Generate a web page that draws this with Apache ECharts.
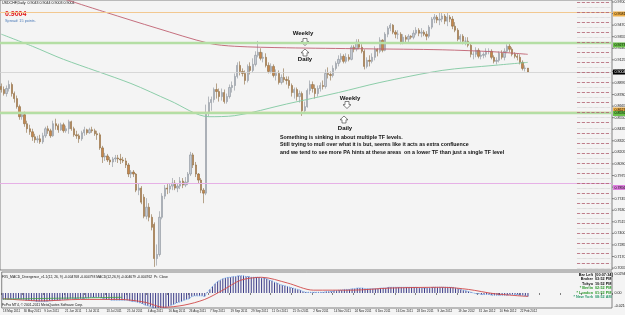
<!DOCTYPE html>
<html><head><meta charset="utf-8">
<script src="https://cdn.jsdelivr.net/npm/echarts/dist/echarts.min.js"></script>
<style>html,body{margin:0;padding:0;background:#f4f4f4;overflow:hidden}#c{width:625px;height:315px}</style>
</head><body><div id="c"></div><script>
// ---- data ----
// candles: [open, close, low, high], one per trading day from 18 May 2011
const candles = [
[0.8860,0.8830,0.8800,0.8890],[0.8830,0.8790,0.8770,0.8860],[0.8790,0.8840,0.8760,0.8870],[0.8840,0.8880,0.8810,0.8920],
[0.8880,0.8790,0.8760,0.8900],[0.8790,0.8740,0.8700,0.8810],[0.8740,0.8660,0.8640,0.8770],[0.8660,0.8560,0.8530,0.8680],
[0.8560,0.8580,0.8530,0.8600],[0.8580,0.8490,0.8460,0.8610],[0.8490,0.8440,0.8400,0.8520],[0.8440,0.8410,0.8380,0.8480],
[0.8410,0.8360,0.8320,0.8440],[0.8360,0.8330,0.8300,0.8390],[0.8330,0.8340,0.8300,0.8370],[0.8340,0.8310,0.8290,0.8380],
[0.8310,0.8370,0.8290,0.8400],[0.8370,0.8440,0.8350,0.8460],[0.8440,0.8420,0.8390,0.8470],[0.8420,0.8370,0.8350,0.8440],
[0.8370,0.8490,0.8360,0.8520],[0.8490,0.8470,0.8430,0.8540],[0.8470,0.8430,0.8400,0.8490],[0.8430,0.8480,0.8420,0.8500],
[0.8480,0.8420,0.8400,0.8500],[0.8420,0.8440,0.8400,0.8470],[0.8440,0.8510,0.8390,0.8530],[0.8510,0.8440,0.8420,0.8520],
[0.8440,0.8380,0.8360,0.8460],[0.8380,0.8370,0.8340,0.8420],[0.8370,0.8340,0.8300,0.8390],[0.8340,0.8400,0.8320,0.8420],
[0.8400,0.8430,0.8370,0.8460],[0.8430,0.8400,0.8380,0.8440],[0.8400,0.8430,0.8390,0.8450],[0.8430,0.8420,0.8400,0.8460],
[0.8420,0.8390,0.8370,0.8440],[0.8390,0.8380,0.8330,0.8420],[0.8380,0.8250,0.8230,0.8400],[0.8250,0.8160,0.8100,0.8270],
[0.8160,0.8170,0.8120,0.8200],[0.8170,0.8130,0.8110,0.8190],[0.8130,0.8110,0.8080,0.8160],[0.8110,0.8140,0.8060,0.8160],
[0.8140,0.8150,0.8110,0.8180],[0.8150,0.8140,0.8100,0.8180],[0.8140,0.8130,0.8090,0.8190],[0.8130,0.8120,0.8100,0.8160],
[0.8120,0.8080,0.8050,0.8150],[0.8080,0.7990,0.7960,0.8100],[0.7990,0.8010,0.7950,0.8030],[0.8010,0.7990,0.7960,0.8030],
[0.7990,0.7830,0.7810,0.8000],[0.7830,0.7850,0.7780,0.7900],[0.7850,0.7710,0.7690,0.7870],[0.7760,0.7570,0.7550,0.7790],
[0.7570,0.7660,0.7540,0.7750],[0.7660,0.7560,0.7520,0.7700],[0.7560,0.7460,0.7430,0.7590],[0.7490,0.7150,0.7067,0.7510],
[0.7150,0.7190,0.7080,0.7290],[0.7190,0.7560,0.7170,0.7620],[0.7560,0.7770,0.7540,0.7800],[0.7770,0.7850,0.7740,0.7880],
[0.7850,0.7840,0.7790,0.7890],[0.7840,0.7870,0.7800,0.7900],[0.7870,0.7900,0.7830,0.7950],[0.7900,0.7850,0.7830,0.7930],
[0.7850,0.7870,0.7810,0.7900],[0.7870,0.7920,0.7840,0.7960],[0.7920,0.7880,0.7850,0.7950],[0.7880,0.7910,0.7860,0.7960],
[0.7910,0.7990,0.7880,0.8010],[0.7990,0.8180,0.7970,0.8210],[0.8180,0.8080,0.8050,0.8200],[0.8080,0.7990,0.7960,0.8110],
[0.7990,0.7930,0.7900,0.8000],[0.7930,0.7830,0.7800,0.7950],[0.7830,0.7800,0.7700,0.7850],[0.7800,0.8600,0.7780,0.8680],
[0.8600,0.8700,0.8560,0.8760],[0.8700,0.8730,0.8620,0.8760],[0.8730,0.8830,0.8700,0.8850],[0.8830,0.8810,0.8740,0.8890],
[0.8810,0.8760,0.8710,0.8840],[0.8760,0.8800,0.8720,0.8840],[0.8800,0.8710,0.8690,0.8830],[0.8710,0.8760,0.8690,0.8790],
[0.8760,0.8850,0.8740,0.8880],[0.8850,0.8870,0.8800,0.8910],[0.8870,0.8960,0.8820,0.8990],[0.8960,0.9070,0.8940,0.9100],
[0.9070,0.9010,0.8970,0.9110],[0.9010,0.8990,0.8960,0.9040],[0.8990,0.8920,0.8880,0.9020],[0.8920,0.9060,0.8900,0.9080],
[0.9060,0.9020,0.8980,0.9100],[0.9020,0.9080,0.9000,0.9140],[0.9080,0.9170,0.9060,0.9210],[0.9170,0.9200,0.9150,0.9313],
[0.9200,0.9140,0.9120,0.9240],[0.9140,0.9150,0.9100,0.9200],[0.9150,0.9070,0.9050,0.9190],[0.9070,0.9010,0.8990,0.9100],
[0.9010,0.9060,0.8990,0.9090],[0.9060,0.8970,0.8950,0.9080],[0.8970,0.8990,0.8920,0.9030],[0.8990,0.8900,0.8880,0.9020],
[0.8900,0.8950,0.8880,0.8980],[0.8950,0.8930,0.8900,0.9040],[0.8930,0.8920,0.8880,0.8960],[0.8920,0.8870,0.8840,0.8960],
[0.8870,0.8800,0.8760,0.8890],[0.8800,0.8830,0.8740,0.8850],[0.8830,0.8760,0.8720,0.8850],[0.8760,0.8790,0.8700,0.8820],
[0.8790,0.8620,0.8568,0.8810],[0.8620,0.8660,0.8600,0.8710],[0.8660,0.8820,0.8650,0.8840],[0.8820,0.8880,0.8780,0.8920],
[0.8880,0.8840,0.8800,0.8910],[0.8840,0.8790,0.8740,0.8880],[0.8790,0.8840,0.8760,0.8870],[0.8840,0.8870,0.8810,0.8900],
[0.8870,0.8860,0.8830,0.8920],[0.8860,0.8990,0.8840,0.9030],[0.8990,0.8980,0.8940,0.9050],[0.8980,0.8970,0.8920,0.9010],
[0.8970,0.9040,0.8950,0.9070],[0.9040,0.9090,0.9020,0.9110],[0.9090,0.9130,0.9060,0.9170],[0.9130,0.9160,0.9100,0.9190],
[0.9160,0.9110,0.9090,0.9180],[0.9110,0.9150,0.9090,0.9190],[0.9150,0.9130,0.9110,0.9180],[0.9130,0.9250,0.9120,0.9270],
[0.9250,0.9230,0.9200,0.9270],[0.9230,0.9300,0.9210,0.9330],[0.9300,0.9250,0.9230,0.9330],[0.9250,0.9210,0.9190,0.9280],
[0.9210,0.9060,0.9030,0.9230],[0.9060,0.9120,0.9040,0.9150],[0.9120,0.9110,0.9060,0.9170],[0.9110,0.9150,0.9090,0.9190],
[0.9150,0.9230,0.9120,0.9260],[0.9230,0.9210,0.9160,0.9240],[0.9210,0.9320,0.9190,0.9350],[0.9320,0.9220,0.9200,0.9330],
[0.9220,0.9380,0.9210,0.9400],[0.9380,0.9440,0.9350,0.9460],[0.9440,0.9470,0.9410,0.9490],[0.9470,0.9400,0.9380,0.9480],
[0.9400,0.9380,0.9340,0.9420],[0.9380,0.9380,0.9330,0.9420],[0.9380,0.9300,0.9280,0.9400],[0.9300,0.9350,0.9280,0.9380],
[0.9350,0.9330,0.9300,0.9370],[0.9330,0.9360,0.9300,0.9380],[0.9360,0.9350,0.9330,0.9370],[0.9350,0.9390,0.9330,0.9420],
[0.9390,0.9420,0.9370,0.9450],[0.9420,0.9390,0.9360,0.9440],[0.9390,0.9400,0.9350,0.9440],[0.9400,0.9380,0.9360,0.9420],
[0.9380,0.9360,0.9320,0.9410],[0.9360,0.9450,0.9340,0.9470],[0.9450,0.9530,0.9430,0.9550],[0.9530,0.9550,0.9490,0.9580],
[0.9550,0.9520,0.9490,0.9570],[0.9520,0.9530,0.9470,0.9596],[0.9530,0.9560,0.9500,0.9590],[0.9560,0.9510,0.9480,0.9580],
[0.9510,0.9550,0.9460,0.9590],[0.9550,0.9530,0.9500,0.9570],[0.9530,0.9460,0.9430,0.9560],[0.9460,0.9420,0.9400,0.9500],
[0.9420,0.9330,0.9310,0.9440],[0.9330,0.9360,0.9300,0.9380],[0.9360,0.9310,0.9280,0.9380],[0.9310,0.9310,0.9270,0.9350],
[0.9310,0.9270,0.9250,0.9350],[0.9270,0.9180,0.9150,0.9290],[0.9180,0.9180,0.9130,0.9210],[0.9180,0.9220,0.9150,0.9250],
[0.9220,0.9160,0.9140,0.9240],[0.9160,0.9170,0.9130,0.9210],[0.9170,0.9180,0.9140,0.9200],[0.9180,0.9210,0.9150,0.9240],
[0.9210,0.9210,0.9180,0.9240],[0.9210,0.9150,0.9130,0.9230],[0.9150,0.9110,0.9090,0.9170],[0.9110,0.9120,0.9080,0.9150],
[0.9120,0.9190,0.9100,0.9210],[0.9190,0.9150,0.9130,0.9220],[0.9150,0.9210,0.9120,0.9240],[0.9210,0.9260,0.9190,0.9280],
[0.9260,0.9230,0.9200,0.9290],[0.9230,0.9180,0.9160,0.9250],[0.9180,0.9160,0.9140,0.9200],[0.9160,0.9150,0.9120,0.9190],
[0.9150,0.9100,0.9080,0.9180],[0.9100,0.9040,0.9020,0.9120],[0.9040,0.9043,0.9010,0.9070],[0.9043,0.9004,0.9003,0.9044]
];
// moving averages, read at a few bars: [barIndex, price]
const maRed = [[23,0.9740],[40,0.9600],[60,0.9440],[80,0.9290],[90,0.9260],[110,0.9245],[140,0.9235],[170,0.9225],[190,0.9205],[203,0.9180]];
const maGreen = [[0,0.9380],[12,0.9260],[24,0.9130],[50,0.8890],[65,0.8720],[80,0.8560],[90,0.8570],[110,0.8686],[130,0.8800],[146,0.8900],[170,0.9020],[190,0.9070],[203,0.9100]];
// MACD main (histogram), one per bar
const macdMain = [
-0.009,-0.009,-0.009,-0.008,-0.008,-0.008,-0.008,-0.009,-0.009,-0.010,
-0.010,-0.011,-0.011,-0.012,-0.012,-0.012,-0.012,-0.012,-0.011,-0.011,
-0.010,-0.010,-0.010,-0.009,-0.009,-0.009,-0.008,-0.008,-0.008,-0.008,
-0.008,-0.008,-0.007,-0.007,-0.006,-0.006,-0.006,-0.006,-0.007,-0.008,
-0.009,-0.009,-0.010,-0.010,-0.010,-0.010,-0.010,-0.010,-0.010,-0.011,
-0.012,-0.012,-0.013,-0.014,-0.015,-0.017,-0.018,-0.019,-0.021,-0.024,
-0.026,-0.025,-0.023,-0.021,-0.019,-0.017,-0.016,-0.014,-0.013,-0.012,
-0.010,-0.009,-0.008,-0.005,-0.004,-0.004,-0.004,-0.004,-0.005,0.001,
0.005,0.009,0.013,0.016,0.018,0.020,0.021,0.022,0.022,0.023,
0.023,0.024,0.024,0.024,0.023,0.023,0.022,0.022,0.022,0.022,
0.021,0.021,0.020,0.018,0.017,0.015,0.014,0.012,0.011,0.010,
0.009,0.008,0.007,0.006,0.005,0.004,0.002,0.001,0.001,0.001,
0.001,0.001,0.001,0.001,0.001,0.002,0.002,0.002,0.003,0.003,
0.004,0.004,0.005,0.005,0.005,0.006,0.006,0.007,0.007,0.007,
0.006,0.006,0.006,0.006,0.006,0.006,0.007,0.007,0.007,0.008,
0.008,0.008,0.008,0.008,0.008,0.008,0.008,0.008,0.008,0.008,
0.008,0.007,0.007,0.007,0.007,0.007,0.008,0.008,0.008,0.008,
0.008,0.008,0.008,0.008,0.008,0.007,0.006,0.005,0.004,0.003,
0.002,0.001,0.000,-0.001,-0.001,-0.002,-0.002,-0.002,-0.002,-0.003,
-0.003,-0.003,-0.003,-0.003,-0.003,-0.003,-0.002,-0.002,-0.002,-0.002,
-0.003,-0.003,-0.004,-0.0048];
const macdSignal = [[0,-0.008],[15,-0.011],[30,-0.009],[45,-0.009],[55,-0.013],[62,-0.020],[70,-0.017],[78,-0.009],[85,0.004],[92,0.018],[100,0.022],[110,0.014],[120,0.004],[135,0.004],[150,0.007],[170,0.008],[180,0.005],[190,-0.001],[203,-0.0048]];
const divGreen = [[0,-0.0085],[46,-0.0060]];
// horizontal levels
const levelOrangeHi = 0.9581, levelGreenHi = 0.9273, levelOrangeLo = 0.8627, levelGreenLo = 0.8592, levelPink = 0.7856, bidPrice = 0.9004;
const roundLevels = [0.70,0.71,0.72,0.73,0.74,0.75,0.76,0.77,0.78,0.79,0.80,0.81,0.82,0.83,0.84,0.85,0.86,0.87,0.88,0.89,0.90,0.91,0.92,0.93,0.94,0.95,0.96,0.97];
const halfLevels = [0.705,0.715,0.725,0.735,0.745,0.755,0.765,0.775,0.785,0.795,0.805,0.815,0.825,0.835,0.845,0.855,0.865,0.875,0.885,0.895,0.905,0.915,0.925,0.935,0.945,0.955,0.965];
// tick labels
const priceTicks = [0.9700,0.9585,0.9470,0.9355,0.9240,0.9125,0.9010,0.8895,0.8780,0.8665,0.8550,0.8435,0.8320,0.8205,0.8090,0.7975,0.7860,0.7745,0.7630,0.7515,0.7400,0.7285,0.7170,0.7055];
const dateTicks = ['18 May 2011','30 May 2011','9 Jun 2011','21 Jun 2011','1 Jul 2011','13 Jul 2011','25 Jul 2011','4 Aug 2011','16 Aug 2011','26 Aug 2011','7 Sep 2011','19 Sep 2011','29 Sep 2011','11 Oct 2011','21 Oct 2011','2 Nov 2011','14 Nov 2011','24 Nov 2011','6 Dec 2011','16 Dec 2011','28 Dec 2011','9 Jan 2012','19 Jan 2012','31 Jan 2012','10 Feb 2012','22 Feb 2012'];
const slots = 236; // bars plus empty right shift
const cats = Array.from({length: slots}, (_, i) => i);

const chart = echarts.init(document.getElementById('c'), null, {renderer: 'canvas'});
function hline(v, color, w, type) {
  return {yAxis: v, lineStyle: {color: color, width: w, type: type || 'solid'}};
}
const shortLines = roundLevels.map(v => [{coord: [222, v], lineStyle: {color: '#b06070', width: 0.8}}, {coord: [235, v]}])
  .concat(halfLevels.map(v => [{coord: [222, v], lineStyle: {color: '#b8b8b8', width: 0.6, type: 'dotted'}}, {coord: [235, v]}]));

const option = {
  animation: false,
  backgroundColor: '#f4f4f4',
  grid: [
    {left: 0, right: 13, top: 0, height: 270, show: true, borderColor: '#666', borderWidth: 0.8, backgroundColor: 'transparent'},
    {left: 0, right: 13, top: 272, height: 36, show: true, borderColor: '#666', borderWidth: 0.8, backgroundColor: 'transparent'}
  ],
  xAxis: [
    {type: 'category', gridIndex: 0, data: cats, axisLine: {show: false}, axisTick: {show: false}, axisLabel: {show: false}, splitLine: {show: false}},
    {type: 'category', gridIndex: 1, data: cats, axisLine: {show: false},
     axisTick: {show: true, interval: 7, length: 2, inside: false, lineStyle: {color: '#333', width: 0.6}},
     axisLabel: {show: true, interval: 7, fontSize: 3, color: '#222', align: 'left', margin: 2, fontFamily: 'Liberation Sans',
       formatter: (v, i) => dateTicks[i / 8] || ''},
     splitLine: {show: false}}
  ],
  yAxis: [
    {type: 'value', gridIndex: 0, min: 0.7036, max: 0.9720, position: 'right', axisLine: {show: false}, axisTick: {show: false}, axisLabel: {show: false}, splitLine: {show: false}},
    {type: 'value', gridIndex: 1, min: -0.021, max: 0.0294, position: 'right', axisLine: {show: false}, axisTick: {show: false}, axisLabel: {show: false}, splitLine: {show: false}}
  ],
  series: [
    {type: 'candlestick', xAxisIndex: 0, yAxisIndex: 0, data: candles, barWidth: 1.8,
     itemStyle: {color: '#c4cad2', color0: '#c8864a', borderColor: '#8a9098', borderColor0: '#8a6a40', borderWidth: 0.6},
     markLine: {silent: true, symbol: 'none', label: {show: false}, animation: false,
       data: [
         hline(levelOrangeHi, '#f2c890', 1.2), hline(levelGreenHi, '#b4dea4', 2.4),
         hline(levelOrangeLo, '#f2c890', 1.4), hline(levelGreenLo, '#b4dea4', 2.4),
         hline(levelPink, '#e6b0e6', 1), hline(bidPrice, '#cfcfcf', 0.8)
       ].concat(shortLines)}},
    {type: 'line', xAxisIndex: 0, yAxisIndex: 0, data: maRed, showSymbol: false, smooth: 0.3, lineStyle: {color: '#c06070', width: 0.9}},
    {type: 'line', xAxisIndex: 0, yAxisIndex: 0, data: maGreen, showSymbol: false, smooth: 0.3, lineStyle: {color: '#80c8a0', width: 0.9}},
    {type: 'bar', xAxisIndex: 1, yAxisIndex: 1, data: macdMain, barWidth: 0.8, itemStyle: {color: '#3c3c88'}},
    {type: 'line', xAxisIndex: 1, yAxisIndex: 1, data: macdMain, showSymbol: false, lineStyle: {color: '#6aa6ee', width: 1, type: 'dotted'}},
    {type: 'line', xAxisIndex: 1, yAxisIndex: 1, data: macdSignal, showSymbol: false, smooth: 0.3, lineStyle: {color: '#d04848', width: 0.9}},
    {type: 'line', xAxisIndex: 1, yAxisIndex: 1, data: divGreen, showSymbol: false, lineStyle: {color: '#40a040', width: 0.8}}
  ]
};
chart.setOption(option);

// ---- texts and annotations ----
const g = [];
const txt = (x, y, s, o) => g.push({type: 'text', x: x, y: y, style: Object.assign({text: s, fill: '#111', font: '4px "Liberation Sans"', textVerticalAlign: 'middle'}, o || {})});
priceTicks.forEach(v => {
  const y = chart.convertToPixel({yAxisIndex: 0}, v);
  g.push({type: 'line', shape: {x1: 612, y1: y, x2: 614, y2: y}, style: {stroke: '#444', lineWidth: 0.6}});
  txt(614.5, y, v.toFixed(4), {font: '3.6px "Liberation Sans"'});
});
// coloured price tags on the scale
[[levelOrangeHi, '#f0b048', '#000'], [levelGreenHi, '#68c048', '#000'], [bidPrice, '#000', '#fff'], [levelOrangeLo, '#f0b048', '#000'], [levelGreenLo, '#68c048', '#000'], [levelPink, '#e080e0', '#000']].forEach(t => {
  const y = chart.convertToPixel({yAxisIndex: 0}, t[0]);
  g.push({type: 'rect', shape: {x: 613, y: y - 2.5, width: 12, height: 5}, style: {fill: t[1]}});
  txt(614.5, y, t[0].toFixed(4), {font: '3.6px "Liberation Sans"', fill: t[2]});
});
txt(2, 3, 'USDCHF,Daily  0.9043 0.9044 0.9003 0.9004', {font: '3.6px "Liberation Sans"'});
txt(5, 14.5, '0.9004', {font: 'bold 7px "Liberation Sans"', fill: '#e01010'});
txt(5, 20.5, 'Spread: 15 points.', {font: '3.8px "Liberation Sans"', fill: '#4a7ab8'});
// annotations
const bold6 = {font: 'bold 6px "Liberation Sans"', textAlign: 'center'};
txt(303, 33, 'Weekly', bold6);
txt(305, 59.5, 'Daily', bold6);
txt(350, 98, 'Weekly', bold6);
txt(345, 128, 'Daily', bold6);
function arrow(cx, y0, down) {
  const s = down ? 1 : -1;
  const pts = [[-2, 0], [2, 0], [2, 3.2], [4, 3.2], [0, 7], [-4, 3.2], [-2, 3.2]].map(p => [cx + p[0], y0 + s * p[1]]);
  g.push({type: 'polygon', shape: {points: pts}, style: {fill: '#fff', stroke: '#333', lineWidth: 0.6}});
}
arrow(305, 38.5, true);
arrow(305, 56, false);
arrow(347, 101.5, true);
arrow(344, 123, false);
const para = {font: 'bold 5.3px "Liberation Sans"'};
txt(280, 137.5, 'Something is sinking in about multiple TF levels.', para);
txt(280, 145, 'Still trying to mull over what it is but, seems like it acts as extra confluence', para);
txt(280, 152.5, 'and we tend to see more PA hints at these areas  on a lower TF than just a single TF level', para);
// indicator window texts
txt(2, 277, 'FX5_MACD_Divergence_v1.1(12, 26, 9) -0.004768 -0.004793 MACD(12,26,9) -0.004679 -0.004762  Pr. Close', {font: '3.4px "Liberation Sans"'});
txt(2, 305.5, 'FxPro MT4, \u00a9 2001-2011 MetaQuotes Software Corp.', {font: '3.4px "Liberation Sans"'});
txt(614.5, 274, '0.0294', {font: '3.6px "Liberation Sans"'});
txt(614.5, 293, '0.00', {font: '3.6px "Liberation Sans"'});
txt(614.5, 306, '-0.0210', {font: '3.6px "Liberation Sans"'});
// time panel
const rows = [['Bar Left', '[00:07:34]', '#111', '#111'], ['Broker', '03:52 PM', '#111', '#111'], ['Tokyo', '10:52 PM', '#111', '#111'], ['* Berlin', '02:52 PM', '#2a9a2a', '#2a9a2a'], ['* London', '01:52 PM', '#2a9a2a', '#2a9a2a'], ['* New York', '08:52 AM', '#2a9a6a', '#2a9a6a']];
rows.forEach((r, i) => {
  const y = 275 + i * 4.4;
  txt(593, y, r[0], {font: 'bold 3.8px "Liberation Sans"', textAlign: 'right', fill: r[2]});
  txt(595, y, r[1], {font: 'bold 3.8px "Liberation Sans"', fill: r[3]});
});
chart.setOption({graphic: {elements: g}});
</script></body></html>
